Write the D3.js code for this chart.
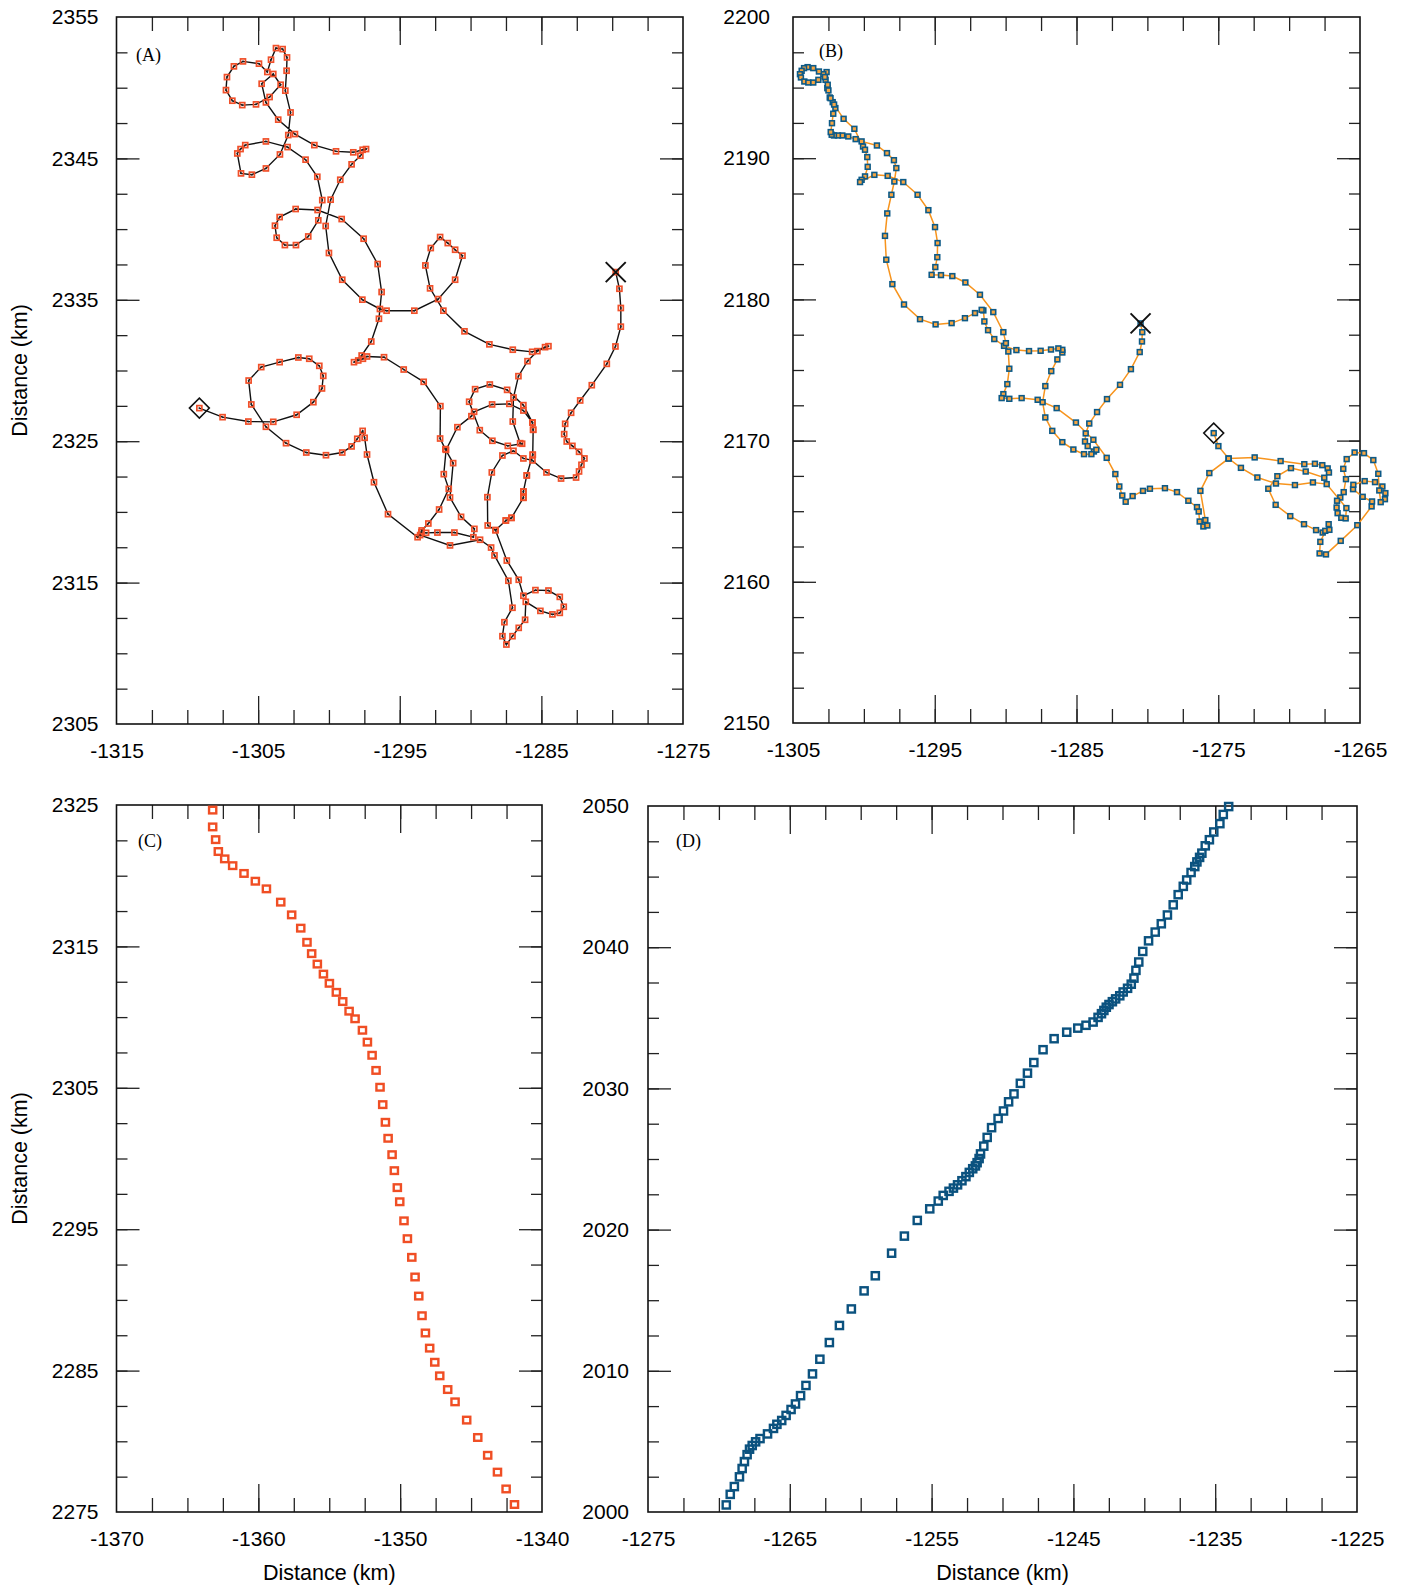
<!DOCTYPE html>
<html><head><meta charset="utf-8">
<script src="https://cdnjs.cloudflare.com/ajax/libs/d3/7.8.5/d3.min.js"></script>
<style>body{margin:0;background:#fff}svg{display:block}</style>
</head><body>
<svg id="c" width="1405" height="1588"></svg>
<script>
// ---------------- DATA (km) ----------------
const trackA = [
[-1309.15,2327.34],[-1307.51,2326.70],[-1305.69,2326.39],[-1303.93,2326.37],[-1302.28,2326.87],[-1301.10,2327.76],[-1300.49,2328.73],[-1300.40,2329.62],[-1300.68,2330.33],[-1301.39,2330.83],[-1302.16,2330.92],[-1303.48,2330.59],[-1304.78,2330.24],[-1305.67,2329.29],[-1305.48,2327.60],[-1304.45,2326.02],[-1303.03,2324.86],[-1301.60,2324.20],[-1300.21,2324.01],[-1299.06,2324.20],[-1298.40,2324.63],[-1298.00,2325.17],[-1297.62,2325.73],[-1297.48,2325.24],[-1297.31,2324.06],[-1296.82,2322.10],[-1295.83,2319.84],[-1293.74,2318.21],
[-1293.47,2318.57],[-1293.14,2318.52],[-1292.34,2318.54],[-1291.14,2318.54],[-1289.80,2318.21],
[-1289.73,2318.80],[-1290.67,2319.65],[-1291.45,2321.02],[-1291.23,2323.45],[-1291.78,2324.44],
[-1292.15,2325.19],[-1292.13,2327.48],[-1293.31,2329.20],
[-1294.72,2330.07],[-1296.11,2330.94],[-1297.31,2330.99],[-1297.60,2330.83],[-1297.93,2330.71],[-1298.23,2330.59],[-1297.69,2331.06],[-1297.01,2332.05],
[-1296.47,2333.66],[-1296.28,2335.55],[-1296.56,2337.53],[-1297.55,2339.32],[-1299.10,2340.71],[-1300.80,2341.35],[-1302.35,2341.42],[-1303.48,2340.85],[-1303.81,2340.24],[-1303.69,2339.39],[-1303.11,2338.87],[-1302.33,2338.87],[-1301.46,2339.48],[-1300.75,2340.62],[-1300.47,2342.05],[-1300.82,2343.70],[-1301.65,2344.91],[-1302.92,2345.80],[-1304.45,2346.20],[-1305.91,2345.94],[-1306.24,2345.66],[-1306.47,2345.35],[-1306.21,2343.94],[-1305.44,2343.85],[-1304.45,2344.29],[-1303.46,2345.28],[-1302.87,2346.65],[-1302.71,2348.25],[-1303.08,2349.79],[-1302.99,2351.20],[-1302.96,2352.14],[-1303.27,2352.73],[-1303.74,2352.80],[-1304.09,2351.98],[-1304.35,2351.11],[-1304.94,2351.70],[-1306.07,2351.86],[-1306.71,2351.51],[-1307.20,2350.75],[-1307.27,2349.83],[-1306.82,2349.08],[-1306.12,2348.77],[-1305.15,2348.82],[-1304.19,2349.34],[-1303.41,2350.21],[-1303.93,2350.97],[-1304.75,2350.28],[-1304.45,2348.96],[-1303.58,2347.74],[-1302.40,2346.72],[-1301.03,2345.94],[-1299.50,2345.50],[-1298.28,2345.43],[-1297.62,2345.61],[-1297.38,2345.66],[-1297.78,2345.19],[-1298.40,2344.58],[-1299.20,2343.49],[-1299.88,2342.08],[-1300.23,2340.22],[-1300.00,2338.31],[-1299.06,2336.42],[-1297.64,2335.01],[-1296.40,2334.35],[-1295.93,2334.23],[-1293.97,2334.23],
[-1292.29,2335.05],[-1291.09,2336.42],[-1290.57,2338.12],[-1291.09,2338.54],[-1291.61,2339.01],[-1292.15,2339.44],[-1292.81,2338.66],[-1293.19,2337.43],[-1292.86,2335.81],[-1291.92,2334.23],[-1290.43,2332.77],[-1288.67,2331.85],[-1287.02,2331.47],
[-1285.65,2331.32],[-1284.74,2331.65],[-1284.50,2331.72],
[-1285.28,2331.37],[-1285.98,2330.66],[-1286.62,2329.60],[-1286.97,2328.09],[-1287.02,2326.39],[-1286.50,2324.86],
[-1286.36,2324.82],[-1287.37,2324.67],[-1288.46,2325.03],[-1289.35,2325.78],[-1290.10,2327.79],[-1289.68,2328.68],[-1288.64,2329.01],[-1287.42,2328.63],[-1286.27,2327.55],
[-1285.63,2326.32],[-1285.58,2325.81],[-1285.61,2324.04],
[-1286.03,2322.58],[-1286.27,2321.44],[-1286.27,2321.00],[-1287.11,2319.58],[-1287.51,2319.39],[-1288.24,2318.71],
[-1287.44,2316.56],[-1286.60,2315.20],
[-1286.27,2314.07],[-1285.42,2314.47],[-1284.50,2314.44],[-1283.70,2313.99],[-1283.42,2313.29],[-1283.70,2312.86],[-1284.22,2312.75],[-1285.07,2313.00],[-1286.10,2313.64],[-1286.15,2312.37],[-1286.60,2311.80],[-1287.04,2311.21],[-1287.47,2310.62],[-1287.75,2311.21],[-1287.61,2312.20],[-1287.04,2313.22],
[-1287.33,2315.13],[-1288.31,2316.92],[-1288.55,2317.48],
[-1289.33,2318.03],[-1291.45,2317.63],
[-1293.56,2318.36],[-1293.45,2318.69],
[-1292.98,2319.18],[-1292.22,2320.17],[-1291.54,2321.63],[-1291.89,2322.67],[-1291.73,2324.39],
[-1290.93,2325.99],[-1289.94,2326.77],[-1289.75,2327.08],[-1288.48,2327.60],[-1287.26,2327.64],[-1286.27,2327.17],
[-1285.63,2326.32],[-1285.58,2325.81],[-1285.61,2324.04],
[-1286.03,2322.58],[-1286.27,2321.44],[-1286.27,2321.00],[-1287.11,2319.58],[-1287.51,2319.39],[-1288.24,2318.71],
[-1288.79,2319.04],[-1288.81,2321.04],[-1288.50,2322.79],[-1287.75,2323.99],[-1286.97,2324.32],[-1286.27,2323.78],[-1285.63,2323.64],
[-1284.64,2322.79],[-1283.61,2322.36],[-1282.55,2322.43],[-1282.34,2322.86],[-1282.17,2323.33],[-1281.96,2323.78],[-1282.34,2324.25],[-1282.81,2324.67],[-1283.21,2324.98],[-1283.39,2325.50],[-1283.32,2326.23],[-1282.90,2327.01],[-1282.26,2327.88],[-1281.44,2328.96],[-1280.38,2330.47],[-1279.77,2331.70],[-1279.39,2333.10],[-1279.39,2334.42],[-1279.49,2335.78],[-1279.75,2336.96]
];

const trackB = [
[-1280.48,2178.30],[-1280.36,2177.68],[-1280.38,2177.02],[-1280.54,2176.27],[-1281.16,2175.06],[-1281.93,2173.95],[-1282.85,2172.94],[-1283.55,2172.02],[-1284.10,2171.21],[-1284.35,2170.51],[-1284.40,2169.94],[-1284.21,2169.61],[-1283.77,2169.23],[-1283.60,2169.35],[-1283.95,2169.04],[-1284.47,2169.04],[-1285.22,2169.37],[-1286.00,2169.89],[-1286.71,2170.69],[-1287.20,2171.64],[-1287.39,2172.72],[-1287.20,2173.86],[-1286.78,2174.92],[-1286.35,2175.75],[-1286.00,2176.24],[-1286.00,2176.43],[-1286.28,2176.53],[-1286.80,2176.45],[-1287.53,2176.36],[-1288.35,2176.34],[-1289.24,2176.41],[-1290.11,2176.71],[-1290.80,2177.19],[-1291.24,2177.82],[-1291.50,2178.44],[-1291.57,2179.22],[-1291.69,2179.26],[-1292.16,2179.03],[-1292.87,2178.67],[-1293.81,2178.32],[-1294.94,2178.23],[-1296.04,2178.60],[-1297.17,2179.64],[-1297.99,2181.08],[-1298.42,2182.81],[-1298.51,2184.50],[-1298.35,2186.09],[-1298.06,2187.41],[-1297.85,2188.35],[-1297.71,2189.30],[-1297.88,2189.86],[-1298.37,2190.36],[-1299.08,2190.90],[-1300.16,2191.19],[-1300.58,2191.35],[-1301.10,2191.54],[-1301.52,2191.61],[-1301.83,2191.61],[-1302.11,2191.61],[-1302.27,2191.66],[-1302.34,2191.85],[-1302.25,2192.48],[-1302.16,2193.15],[-1302.01,2193.55],[-1302.20,2193.97],[-1302.41,2194.30],[-1302.58,2194.96],[-1302.70,2195.55],[-1302.63,2196.10],[-1302.86,2195.95],[-1303.17,2196.14],[-1303.57,2196.38],[-1303.97,2196.45],[-1304.22,2196.38],[-1304.39,2196.19],[-1304.51,2195.95],[-1304.44,2195.72],[-1304.20,2195.43],[-1303.92,2195.36],[-1303.57,2195.36],[-1303.21,2195.55],[-1302.75,2195.75],[-1302.55,2195.20],[-1302.50,2194.80],[-1302.35,2194.25],[-1302.10,2193.80],[-1301.43,2192.79],[-1300.67,2192.08],[-1300.06,2190.83],[-1299.92,2190.60],[-1299.76,2190.08],[-1299.73,2189.39],[-1299.92,2188.71],[-1300.16,2188.47],[-1300.27,2188.31],[-1299.26,2188.82],[-1298.32,2188.75],[-1297.22,2188.31],[-1296.21,2187.41],[-1295.45,2186.32],[-1294.98,2185.12],[-1294.80,2183.99],[-1294.82,2182.99],[-1294.96,2182.29],[-1295.22,2181.74],[-1294.56,2181.72],[-1293.76,2181.65],[-1292.84,2181.20],[-1291.81,2180.33],[-1290.87,2179.10],[-1290.16,2177.68],[-1289.98,2176.90],[-1289.81,2176.31],[-1289.74,2175.09],[-1289.88,2174.00],[-1290.16,2173.29],[-1290.28,2173.01],[-1289.74,2172.96],[-1288.87,2173.01],[-1287.74,2172.89],[-1286.40,2172.30],[-1285.04,2171.28],[-1283.81,2170.06],[-1282.87,2168.78],[-1282.26,2167.63],[-1281.98,2166.75],[-1281.77,2166.11],[-1281.53,2165.67],[-1281.04,2166.07],[-1280.31,2166.44],[-1279.82,2166.59],[-1278.76,2166.63],[-1277.91,2166.35],[-1277.11,2165.74],[-1276.50,2165.29],[-1276.38,2164.98],[-1276.31,2164.27],[-1276.05,2163.92],[-1275.77,2163.99],[-1275.91,2164.37],[-1276.26,2166.44],[-1275.63,2167.70],[-1274.27,2168.73],
[-1272.43,2168.81],[-1270.60,2168.55],[-1268.93,2168.33],[-1268.18,2168.36],[-1267.66,2168.26],[-1267.28,2168.03],[-1267.19,2167.74],[-1267.52,2167.37],[-1268.83,2167.81],[-1269.87,2168.05],[-1270.83,2167.48],[-1271.47,2166.59],[-1270.95,2165.45],[-1269.92,2164.65],[-1268.95,2164.08],[-1268.10,2163.66],[-1267.63,2163.49],[-1267.45,2163.61],[-1267.16,2163.68],[-1267.21,2164.08],[-1267.80,2162.83],[-1267.85,2162.01],[-1267.40,2161.94],[-1266.36,2162.90],[-1265.19,2164.01],[-1264.18,2165.34],[-1264.15,2165.69],[-1264.81,2166.02],[-1265.49,2166.56],[-1265.47,2166.87],[-1264.67,2167.13],[-1263.94,2167.06],[-1263.42,2166.75],[-1263.21,2166.28],[-1263.24,2165.85],[-1263.54,2165.64],[-1263.64,2166.47],[-1263.71,2167.65],[-1264.06,2168.62],[-1264.72,2169.11],[-1265.38,2169.16],[-1265.94,2168.69],[-1266.18,2168.00],[-1265.99,2167.27],[-1266.15,2166.35],[-1266.39,2165.97],[-1266.62,2165.74],[-1266.65,2165.26],[-1266.58,2164.86],[-1266.32,2164.53],[-1266.01,2164.49],[-1265.96,2165.22],[-1267.35,2166.92],[-1268.32,2167.04],[-1269.59,2166.85],[-1270.93,2166.96],[-1272.24,2167.39],[-1273.40,2168.07],[-1274.27,2168.73],[-1274.99,2169.61],[-1275.32,2170.53]
];

const trackCx = [-1363.22,-1363.22,-1363.01,-1362.82,-1362.37,-1361.81,-1361.01,-1360.21,-1359.43,-1358.42,-1357.65,-1357.01,-1356.57,-1356.24,-1355.84,-1355.41,-1354.99,-1354.50,-1354.05,-1353.60,-1353.18,-1352.66,-1352.31,-1351.98,-1351.70,-1351.42,-1351.23,-1351.04,-1350.85,-1350.57,-1350.41,-1350.20,-1350.03,-1349.73,-1349.49,-1349.18,-1348.95,-1348.69,-1348.46,-1348.22,-1347.92,-1347.56,-1347.21,-1346.65,-1346.13,-1345.31,-1344.53,-1343.83,-1343.14,-1342.53,-1341.94];
const trackCy = [2324.64,2323.45,2322.55,2321.71,2321.19,2320.71,2320.16,2319.61,2319.07,2318.13,2317.23,2316.29,2315.29,2314.49,2313.75,2313.04,2312.39,2311.75,2311.10,2310.42,2309.88,2309.07,2308.23,2307.30,2306.23,2305.04,2303.81,2302.56,2301.43,2300.27,2299.14,2297.94,2296.94,2295.59,2294.33,2293.01,2291.62,2290.27,2288.88,2287.66,2286.59,2285.59,2284.63,2283.66,2282.79,2281.50,2280.27,2279.01,2277.82,2276.63,2275.53];

const trackDx = [-1269.48,-1269.20,-1268.91,-1268.55,-1268.36,-1268.20,-1268.01,-1267.84,-1267.65,-1267.41,-1267.10,-1266.57,-1266.15,-1265.91,-1265.57,-1265.26,-1264.91,-1264.60,-1264.24,-1263.86,-1263.40,-1262.88,-1262.21,-1261.50,-1260.66,-1259.76,-1258.97,-1257.82,-1256.92,-1256.01,-1255.13,-1254.53,-1254.18,-1253.77,-1253.46,-1253.17,-1252.86,-1252.58,-1252.34,-1252.10,-1251.91,-1251.79,-1251.65,-1251.55,-1251.32,-1251.08,-1250.77,-1250.31,-1249.93,-1249.57,-1249.19,-1248.74,-1248.24,-1247.79,-1247.14,-1246.36,-1245.47,-1244.69,-1244.11,-1243.61,-1243.26,-1243.02,-1242.85,-1242.68,-1242.49,-1242.25,-1242.02,-1241.73,-1241.49,-1241.18,-1240.92,-1240.73,-1240.59,-1240.39,-1240.11,-1239.70,-1239.23,-1238.80,-1238.37,-1237.96,-1237.61,-1237.25,-1237.01,-1236.70,-1236.44,-1236.29,-1236.10,-1235.94,-1235.70,-1235.41,-1235.10,-1234.67,-1234.43,-1234.05];
const trackDy = [2000.50,2001.25,2001.80,2002.49,2003.08,2003.57,2004.06,2004.45,2004.71,2004.97,2005.20,2005.53,2005.92,2006.21,2006.48,2006.84,2007.26,2007.65,2008.24,2008.96,2009.78,2010.82,2012.00,2013.21,2014.38,2015.66,2016.73,2018.33,2019.54,2020.65,2021.47,2022.02,2022.42,2022.71,2022.94,2023.17,2023.46,2023.75,2024.05,2024.31,2024.51,2024.74,2025.03,2025.36,2025.91,2026.53,2027.22,2027.87,2028.40,2029.05,2029.61,2030.36,2031.08,2031.83,2032.74,2033.52,2033.98,2034.27,2034.47,2034.70,2035.03,2035.29,2035.52,2035.75,2035.94,2036.14,2036.34,2036.56,2036.83,2037.09,2037.38,2037.81,2038.36,2038.95,2039.70,2040.45,2041.07,2041.66,2042.28,2043.00,2043.72,2044.31,2044.76,2045.29,2045.71,2046.04,2046.36,2046.66,2047.18,2047.61,2048.16,2048.75,2049.40,2049.96];

const ticksAx = [-1315,-1305,-1295,-1285,-1275], ticksAy = [2305,2315,2325,2335,2345,2355];
const ticksBx = [-1305,-1295,-1285,-1275,-1265], ticksBy = [2150,2160,2170,2180,2190,2200];
const ticksCx = [-1370,-1360,-1350,-1340], ticksCy = [2275,2285,2295,2305,2315,2325];
const ticksDx = [-1275,-1265,-1255,-1245,-1235,-1225], ticksDy = [2000,2010,2020,2030,2040,2050];

// ---------------- DRAWING ----------------
const svg = d3.select("#c");
const FONT = "Liberation Sans, Arial, sans-serif";
const fmt = d => String(d);

const panels = [
  {key:"A", box:[116.5,683,17,724], xt:ticksAx, yt:ticksAy, letter:"(A)", lp:[136,61], ytitle:true, xtitle:false, ypad:18},
  {key:"B", box:[793,1360,17,723], xt:ticksBx, yt:ticksBy, letter:"(B)", lp:[819,57], ytitle:false, xtitle:false, ypad:23},
  {key:"C", box:[116.5,542,805,1512], xt:ticksCx, yt:ticksCy, letter:"(C)", lp:[138,847], ytitle:true, xtitle:true, ypad:18},
  {key:"D", box:[648,1357,806,1512], xt:ticksDx, yt:ticksDy, letter:"(D)", lp:[676,847], ytitle:false, xtitle:true, ypad:19}
];

const scales = {};
panels.forEach(p => {
  const [l,r,t,b] = p.box;
  const x = d3.scaleLinear().domain([p.xt[0], p.xt[p.xt.length-1]]).range([l,r]);
  const y = d3.scaleLinear().domain([p.yt[0], p.yt[p.yt.length-1]]).range([b,t]);
  scales[p.key] = {x,y};
  const g = svg.append("g");
  const minorX = d3.range(p.xt[0]+2.5, p.xt[p.xt.length-1]-0.1, 2.5);
  const minorY = d3.range(p.yt[0]+2.5, p.yt[p.yt.length-1]-0.1, 2.5);
  const majX = p.xt.slice(1,-1), majY = p.yt.slice(1,-1);
  const clean = s => { s.select(".domain").remove(); s.selectAll("line").attr("stroke","#222").attr("stroke-width",1.3); };
  g.append("g").attr("transform",`translate(0,${b})`).call(d3.axisTop(x).tickValues(minorX).tickSize(14).tickFormat("")).call(clean);
  g.append("g").attr("transform",`translate(0,${b})`).call(d3.axisTop(x).tickValues(majX).tickSize(28).tickFormat("")).call(clean);
  g.append("g").attr("transform",`translate(0,${t})`).call(d3.axisBottom(x).tickValues(minorX).tickSize(14).tickFormat("")).call(clean);
  g.append("g").attr("transform",`translate(0,${t})`).call(d3.axisBottom(x).tickValues(majX).tickSize(28).tickFormat("")).call(clean);
  g.append("g").attr("transform",`translate(${l},0)`).call(d3.axisRight(y).tickValues(minorY).tickSize(11).tickFormat("")).call(clean);
  g.append("g").attr("transform",`translate(${l},0)`).call(d3.axisRight(y).tickValues(majY).tickSize(23).tickFormat("")).call(clean);
  g.append("g").attr("transform",`translate(${r},0)`).call(d3.axisLeft(y).tickValues(minorY).tickSize(11).tickFormat("")).call(clean);
  g.append("g").attr("transform",`translate(${r},0)`).call(d3.axisLeft(y).tickValues(majY).tickSize(23).tickFormat("")).call(clean);
  const lab = s => { s.select(".domain").remove(); s.selectAll("line").remove(); s.attr("font-family",FONT).attr("font-size",21); s.selectAll("text").attr("fill","#000"); };
  g.append("g").attr("transform",`translate(0,${b})`).call(d3.axisBottom(x).tickValues(p.xt).tickSize(0).tickPadding(19).tickFormat(fmt)).call(lab);
  g.append("g").attr("transform",`translate(${l},0)`).call(d3.axisLeft(y).tickValues(p.yt).tickSize(0).tickPadding(p.ypad).tickFormat(fmt)).call(lab);
  g.append("rect").attr("x",l).attr("y",t).attr("width",r-l).attr("height",b-t).attr("fill","none").attr("stroke","#111").attr("stroke-width",1.6);
  g.append("text").attr("x",p.lp[0]).attr("y",p.lp[1]).attr("font-family","Liberation Serif, Times New Roman, serif").attr("font-size",18).text(p.letter);
  if (p.ytitle) g.append("text").attr("transform",`translate(27,${(t+b)/2}) rotate(-90)`).attr("text-anchor","middle").attr("font-family",FONT).attr("font-size",21.5).text("Distance (km)");
  if (p.xtitle) g.append("text").attr("x",(l+r)/2).attr("y",b+68).attr("text-anchor","middle").attr("font-family",FONT).attr("font-size",21.5).text("Distance (km)");
  p.g = g;
});

function startEnd(g, x, y, s, e) {
  const d = 10;
  g.append("path").attr("d",`M${x(s[0])},${y(s[1])-d}L${x(s[0])+d},${y(s[1])}L${x(s[0])},${y(s[1])+d}L${x(s[0])-d},${y(s[1])}Z`).attr("fill","none").attr("stroke","#111").attr("stroke-width",1.5);
  const c = 10;
  g.append("path").attr("d",`M${x(e[0])-c},${y(e[1])-c}L${x(e[0])+c},${y(e[1])+c}M${x(e[0])+c},${y(e[1])-c}L${x(e[0])-c},${y(e[1])+c}`).attr("stroke","#111").attr("stroke-width",2);
}

{
  const {x,y} = scales.A, g = panels[0].g;
  g.append("path").datum(trackA).attr("d", d3.line().x(d=>x(d[0])).y(d=>y(d[1]))).attr("fill","none").attr("stroke","#111").attr("stroke-width",1.4);
  g.selectAll(".ma").data(trackA).join("rect").attr("x",d=>x(d[0])-2.5).attr("y",d=>y(d[1])-2.5).attr("width",5).attr("height",5).attr("fill","none").attr("stroke","#f0502a").attr("stroke-width",1.7);
  g.selectAll(".da").data(trackA).join("rect").attr("x",d=>x(d[0])-0.8).attr("y",d=>y(d[1])-0.8).attr("width",1.6).attr("height",1.6).attr("fill","#222");
  startEnd(g, x, y, trackA[0], trackA[trackA.length-1]);
}
{
  const {x,y} = scales.B, g = panels[1].g;
  g.append("path").datum(trackB).attr("d", d3.line().x(d=>x(d[0])).y(d=>y(d[1]))).attr("fill","none").attr("stroke","#f7941d").attr("stroke-width",1.5);
  g.selectAll(".mb").data(trackB).join("rect").attr("x",d=>x(d[0])-2.4).attr("y",d=>y(d[1])-2.4).attr("width",4.8).attr("height",4.8).attr("fill","#f6a541").attr("stroke","#0d5a87").attr("stroke-width",1.6);
  startEnd(g, x, y, trackB[trackB.length-1], trackB[0]);
}
{
  const {x,y} = scales.C, g = panels[2].g;
  g.selectAll(".mc").data(d3.range(trackCx.length)).join("rect").attr("x",i=>x(trackCx[i])-3.6).attr("y",i=>y(trackCy[i])-3.3).attr("width",7.2).attr("height",6.6).attr("fill","none").attr("stroke","#f04e24").attr("stroke-width",2.4);
}
{
  const {x,y} = scales.D, g = panels[3].g;
  g.selectAll(".md").data(d3.range(trackDx.length)).join("rect").attr("x",i=>x(trackDx[i])-3.6).attr("y",i=>y(trackDy[i])-3.6).attr("width",7.2).attr("height",7.2).attr("fill","none").attr("stroke","#0b527f").attr("stroke-width",2.4);
}
</script>
</body></html>
